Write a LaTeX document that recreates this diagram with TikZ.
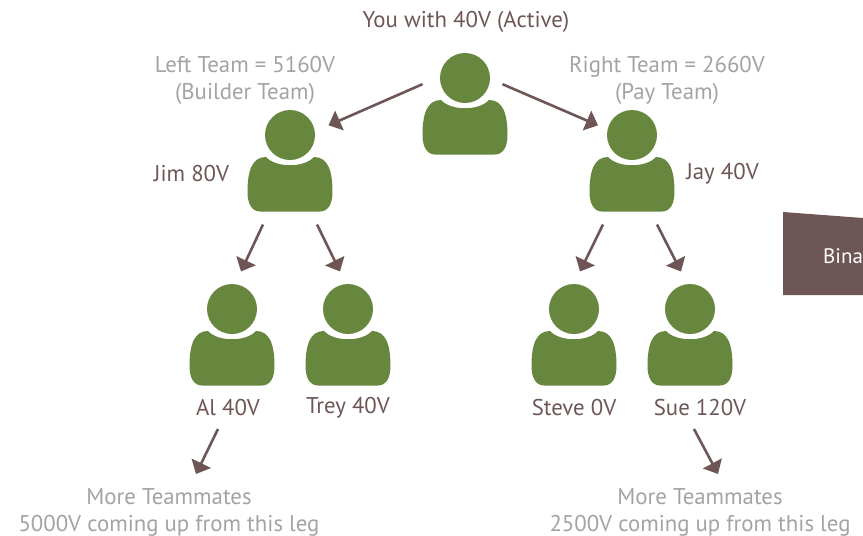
\documentclass[tikz,border=0pt]{standalone}
\usepackage{fontspec}
\setmainfont{PT Sans}
\usetikzlibrary{positioning,arrows.meta}
\definecolor{teamgreen}{HTML}{67873F}
\definecolor{teambrown}{HTML}{6F5656}
\definecolor{teamgrey}{HTML}{A3A3A6}
\tikzset{
	person/.style={minimum width=85pt,minimum height=103pt,inner sep=0pt,outer sep=0pt,
		path picture={
			\begin{scope}[shift={(path picture bounding box.center)}]
				\fill[teamgreen] (0,-26) circle (25pt);
				\fill[teamgreen] (-24,-4) .. controls (-14,7) and (14,7) .. (24,-4)
					.. controls (38,-4) and (42.5,10) .. (42.5,31)
					.. controls (42.5,43) and (38,50.5) .. (30,50.5)
					-- (-30,50.5)
					.. controls (-38,50.5) and (-42.5,43) .. (-42.5,31)
					.. controls (-42.5,10) and (-38,-4) .. (-24,-4) -- cycle;
			\end{scope}
		}},
	namelabel/.style={text=teambrown,font=\fontsize{22.8}{27}\selectfont,inner sep=0pt,align=center},
	greylabel/.style={text=teamgrey,font=\fontsize{22.8}{27}\selectfont,inner sep=0pt,align=center},
	link/.style={draw=teambrown,line width=2.6pt,-{Triangle[width=21pt,length=12pt]}}
}
\begin{document}
\begin{tikzpicture}[x=1pt,y=-1pt,on grid]
	\useasboundingbox (0,0) rectangle (863,536);
	\node[person] (you) at (465,104) {};
	\node[person,below left=57pt and 175pt of you] (jim) {};
	\node[person,below right=57pt and 167pt of you] (jay) {};
	\node[person,below left=174pt and 58pt of jim] (al) {};
	\node[person,below right=174pt and 58pt of jim] (trey) {};
	\node[person,below left=174pt and 58pt of jay] (steve) {};
	\node[person,below right=174pt and 58pt of jay] (sue) {};
	% labels
	\node[namelabel] (youlabel) at (466,22) {You with 40V (Active)};
	\node[greylabel] (leftteam) at (245,80) {Left Team = 5160V\\(Builder Team)};
	\node[greylabel] (rightteam) at (667,80) {Right Team = 2660V\\(Pay Team)};
	\node[namelabel,below left=12.5pt and 98.5pt of jim] (jimlabel) {Jim 80V};
	\node[namelabel,below right=13pt and 90.5pt of jay] (jaylabel) {Jay 40V};
	\node[namelabel,below=73pt of al,xshift=-4pt] (allabel) {Al 40V};
	\node[namelabel,below=72.5pt of trey] (treylabel) {Trey 40V};
	\node[namelabel,below=73pt of steve] (stevelabel) {Steve 0V};
	\node[namelabel,below=73pt of sue,xshift=10pt] (suelabel) {Sue 120V};
	\node[greylabel] (moreleft) at (169,512) {More Teammates\\5000V coming up from this leg};
	\node[greylabel] (moreright) at (700,512) {More Teammates\\2500V coming up from this leg};
	% banner
	\fill[teambrown] (783,212) -- (863,218) -- (863,295) -- (783,295) -- cycle;
	\node[text=white,font=\fontsize{21}{27}\selectfont,inner sep=0pt,anchor=west] (banner) at (823,256) {Bina};
	% connectors
	\draw[link] (you.155) -- ([xshift=-4pt]jim.40);
	\draw[link] ([xshift=-5pt]you.25) -- ([xshift=8.5pt]jay.140);
	\draw[link] ([xshift=-27pt,yshift=-12pt]jim.south) -- ([xshift=9pt,yshift=12pt]al.north);
	\draw[link] ([xshift=27pt,yshift=-12pt]jim.south) -- ([xshift=-8pt,yshift=12pt]trey.north);
	\draw[link] ([xshift=-29pt,yshift=-12pt]jay.south) -- ([xshift=6pt,yshift=12pt]steve.north);
	\draw[link] ([xshift=25pt,yshift=-12pt]jay.south) -- ([xshift=-9pt,yshift=12pt]sue.north);
	\draw[link] ([xshift=-10pt,yshift=-21pt]allabel.center) -- ([xshift=27pt,yshift=38pt]moreleft.center);
	\draw[link] ([xshift=-6pt,yshift=-21pt]suelabel.center) -- ([xshift=18pt,yshift=38pt]moreright.center);
\end{tikzpicture}
\end{document}
